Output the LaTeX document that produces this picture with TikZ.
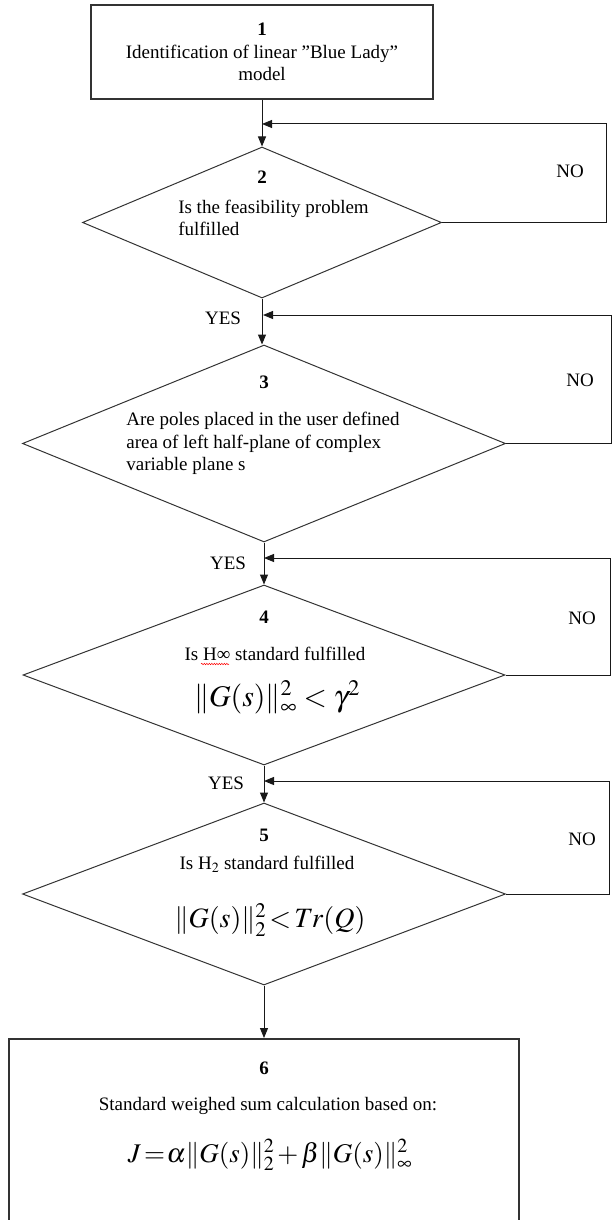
\documentclass[tikz,border=0pt]{standalone}
\usepackage{mathptmx}
\usepackage{fontspec}
\setmainfont{Liberation Serif}
\usetikzlibrary{shapes.geometric}
\usetikzlibrary{arrows.meta}
\usetikzlibrary{decorations.pathmorphing}

\newcommand{\nrm}[1]{\|#1\|}

\begin{document}
\begin{tikzpicture}[
    x=1pt, y=-1pt, % one unit per pixel, y grows downwards
    line width=1pt, % thin connector lines
    every node/.style={
        inner sep=0pt, % no padding around texts
        font=\fontsize{19}{22.5}\selectfont % Times-like body text
    },
    box/.style={draw=black!80, line width=1.6pt, align=center}, % process blocks
    decision/.style 2 args={draw=black!80, diamond, minimum width=#1, minimum height=#2}, % tests
    number/.style={font=\fontsize{19}{22.5}\selectfont\bfseries}, % block numbers
    formula/.style={font=\fontsize{#1}{34}\selectfont}, % large equations
    formula/.default=28,
    flow/.style={black!90, -{Triangle[length=10pt,width=8pt]}} % arrows
]
\useasboundingbox (0,0) rectangle (612,1220);
\clip (0,0) rectangle (612,1220);

% blocks
\node[box, minimum width=342, minimum height=94] (box1) at (262,52)
    {\textbf{1}\\Identification of linear ”Blue Lady”\\model};

\node[decision={359}{151}] (dec2) at (262,222.5) {};
\node[number] (num2) at (262,177) {2};
\node[align=left] (txt2) at (273.5,218) {Is the feasibility problem\\fulfilled};

\node[decision={483}{197}] (dec3) at (264,443.5) {};
\node[number] (num3) at (264,382) {3};
\node[align=left] (txt3) at (263,443.5)
    {Are poles placed in the user defined\\area of left half-plane of complex\\variable plane s};

\node[decision={482}{180}] (dec4) at (264,675) {};
\node[number] (num4) at (264,617) {4};
\node (txt4) at (275,654) {Is H∞ standard fulfilled};
\node[formula=30] (eq4) at (277,697) {$\nrm{G(s)}_\infty^2<\gamma^2$};
\draw[red, line width=0.5pt, decorate, decoration={snake, amplitude=0.7pt, segment length=2.5pt}]
    (201,664) -- (229,664);

\node[decision={483}{182}] (dec5) at (264,894) {};
\node[number] (num5) at (264,835) {5};
\node (txt5) at (267,864) {Is H$_2$ standard fulfilled};
\node[formula=28] (eq5) at (270,920) {$\nrm{G(s)}_2^2\mskip2mu{<}\mskip2mu Tr(Q)$};

\node[box, minimum width=510, minimum height=190, anchor=north] (box6) at (264,1038) {};
\node[number] (num6) at (264,1068) {6};
\node (txt6) at (268,1106) {Standard weighed sum calculation based on:};
\node[formula=27] (eq6) at (270,1155)
    {$J\mskip2mu{=}\mskip1mu\alpha\nrm{G(s)}_2^2\mskip2mu{+}\mskip2mu\beta\nrm{G(s)}_\infty^2$};

% answers
\node (yes2) at (223,318) {YES};
\node (yes3) at (228,563) {YES};
\node (yes4) at (226,783) {YES};
\node (no2) at (570,171) {NO};
\node (no3) at (580,380) {NO};
\node (no4) at (582,618) {NO};
\node (no5) at (582,839) {NO};

% main flow
\draw[flow] (box1.south) -- (box1.south |- dec2.north);
\draw[flow] (dec2.south) -- (dec2.south |- dec3.north);
\draw[flow] (dec3.south) -- (dec4.north);
\draw[flow] (dec4.south) -- (dec5.north);
\draw[flow] (dec5.south) -- (box6.north);

% loops back
\coordinate (join2) at (262,124);
\coordinate (join3) at (263,315);
\coordinate (join4) at (264,558);
\coordinate (join5) at (264,781);
\coordinate (back2) at (606,124);
\coordinate (back3) at (611,315);
\coordinate (back4) at (610,558);
\coordinate (back5) at (609,781);
\draw[flow] (dec2.east) -| (back2) -- (join2);
\draw[flow] (dec3.east) -| (back3) -- (join3);
\draw[flow] (dec4.east) -| (back4) -- (join4);
\draw[flow] (dec5.east) -| (back5) -- (join5);
\end{tikzpicture}
\end{document}
